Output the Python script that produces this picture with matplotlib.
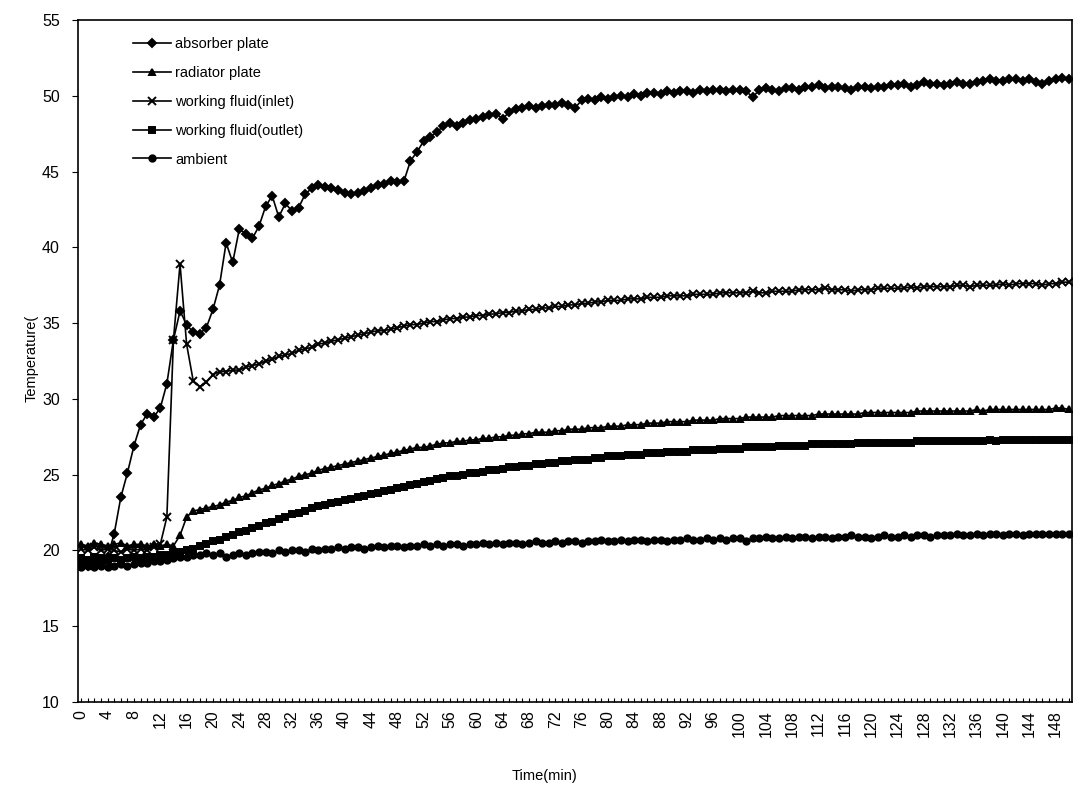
import numpy as np
import matplotlib
matplotlib.use("Agg")
import matplotlib.pyplot as plt

plt.rcParams['font.family'] = ['Liberation Sans', 'DejaVu Sans']

time_min = list(range(0, 151))

absorber_plate = [
    19.1, 19.0, 19.2, 19.1, 19.6, 21.1, 23.5, 25.1, 26.9, 28.3,
    29.0, 28.8, 29.4, 31.0, 33.9, 35.8, 34.9, 34.4, 34.3, 34.7,
    35.9, 37.5, 40.3, 39.0, 41.2, 40.9, 40.6, 41.4, 42.7, 43.4,
    42.0, 42.9, 42.4, 42.6, 43.5, 43.9, 44.1, 44.0, 43.9, 43.8,
    43.6, 43.5, 43.6, 43.7, 43.9, 44.1, 44.2, 44.35, 44.3, 44.35,
    45.7, 46.3, 47.0, 47.3, 47.6, 48.0, 48.2, 48.0, 48.2, 48.4,
    48.5, 48.6, 48.7, 48.8, 48.5, 48.9, 49.1, 49.2, 49.3, 49.2,
    49.3, 49.4, 49.4, 49.5, 49.4, 49.2, 49.7, 49.8, 49.7, 49.9,
    49.8, 49.9, 50.0, 49.9, 50.1, 50.0, 50.2, 50.2, 50.1, 50.3,
    50.2, 50.3, 50.3, 50.2, 50.4, 50.3, 50.4, 50.4, 50.3, 50.4,
    50.4, 50.3, 49.9, 50.4, 50.5, 50.4, 50.3, 50.5, 50.5, 50.4,
    50.6, 50.6, 50.7, 50.5, 50.6, 50.6, 50.5, 50.4, 50.6, 50.6,
    50.5, 50.6, 50.6, 50.7, 50.7, 50.8, 50.6, 50.7, 50.9, 50.8,
    50.8, 50.7, 50.8, 50.9, 50.8, 50.8, 50.9, 51.0, 51.1, 51.0,
    51.0, 51.1, 51.1, 51.0, 51.1, 50.9, 50.8, 51.0, 51.1, 51.2,
    51.1]

radiator_plate = [
    20.4, 20.3, 20.5, 20.4, 20.3, 20.4, 20.5, 20.3, 20.4, 20.4,
    20.3, 20.4, 20.3, 20.4, 20.3, 21.0, 22.2, 22.6, 22.7, 22.8,
    22.9, 23.0, 23.2, 23.3, 23.5, 23.6, 23.8, 24.0, 24.1, 24.3,
    24.4, 24.6, 24.7, 24.9, 25.0, 25.1, 25.3, 25.4, 25.5, 25.6,
    25.7, 25.8, 25.9, 26.0, 26.1, 26.2, 26.3, 26.4, 26.5, 26.6,
    26.7, 26.8, 26.8, 26.9, 27.0, 27.1, 27.1, 27.2, 27.2, 27.3,
    27.3, 27.4, 27.4, 27.5, 27.5, 27.6, 27.6, 27.7, 27.7, 27.8,
    27.8, 27.8, 27.9, 27.9, 28.0, 28.0, 28.0, 28.1, 28.1, 28.1,
    28.2, 28.2, 28.2, 28.3, 28.3, 28.3, 28.4, 28.4, 28.4, 28.5,
    28.5, 28.5, 28.5, 28.6, 28.6, 28.6, 28.6, 28.7, 28.7, 28.7,
    28.7, 28.8, 28.8, 28.8, 28.8, 28.8, 28.9, 28.9, 28.9, 28.9,
    28.9, 28.9, 29.0, 29.0, 29.0, 29.0, 29.0, 29.0, 29.0, 29.1,
    29.1, 29.1, 29.1, 29.1, 29.1, 29.1, 29.1, 29.2, 29.2, 29.2,
    29.2, 29.2, 29.2, 29.2, 29.2, 29.2, 29.3, 29.2, 29.3, 29.3,
    29.3, 29.3, 29.3, 29.3, 29.3, 29.3, 29.3, 29.3, 29.4, 29.4,
    29.3]

fluid_inlet = [
    20.1, 20.0, 20.2, 20.0, 20.1, 20.0, 19.9, 20.1, 20.0, 20.1,
    20.0, 20.2, 20.4, 22.2, 33.9, 38.9, 33.6, 31.2, 30.8, 31.1,
    31.6, 31.8, 31.8, 31.9, 31.9, 32.1, 32.2, 32.3, 32.5, 32.6,
    32.8, 32.9, 33.0, 33.2, 33.3, 33.4, 33.6, 33.7, 33.8, 33.9,
    34.0, 34.1, 34.2, 34.3, 34.4, 34.5, 34.5, 34.6, 34.7, 34.8,
    34.9, 34.9, 35.0, 35.1, 35.1, 35.2, 35.3, 35.3, 35.4, 35.4,
    35.5, 35.5, 35.6, 35.6, 35.7, 35.7, 35.8, 35.8, 35.9, 35.9,
    36.0, 36.0, 36.1, 36.1, 36.2, 36.2, 36.3, 36.3, 36.4, 36.4,
    36.5, 36.5, 36.5, 36.6, 36.6, 36.6, 36.7, 36.7, 36.7, 36.8,
    36.8, 36.8, 36.8, 36.9, 36.9, 36.9, 36.9, 37.0, 37.0, 37.0,
    37.0, 37.0, 37.1, 37.0, 37.0, 37.1, 37.1, 37.1, 37.1, 37.2,
    37.2, 37.2, 37.2, 37.3, 37.2, 37.2, 37.2, 37.1, 37.2, 37.2,
    37.2, 37.3, 37.3, 37.3, 37.3, 37.3, 37.4, 37.3, 37.4, 37.4,
    37.4, 37.4, 37.4, 37.5, 37.5, 37.4, 37.5, 37.5, 37.5, 37.5,
    37.6, 37.5, 37.6, 37.6, 37.6, 37.6, 37.5, 37.6, 37.6, 37.7,
    37.7]

fluid_outlet = [
    19.5, 19.4, 19.6, 19.5, 19.4, 19.5, 19.4, 19.5, 19.6, 19.5,
    19.6, 19.6, 19.7, 19.7, 19.8, 19.9, 20.0, 20.1, 20.3, 20.4,
    20.6, 20.7, 20.9, 21.0, 21.2, 21.3, 21.5, 21.6, 21.8, 21.9,
    22.1, 22.2, 22.4, 22.5, 22.6, 22.8, 22.9, 23.0, 23.1, 23.2,
    23.3, 23.4, 23.5, 23.6, 23.7, 23.8, 23.9, 24.0, 24.1, 24.2,
    24.3, 24.4, 24.5, 24.6, 24.7, 24.8, 24.9, 24.9, 25.0, 25.1,
    25.1, 25.2, 25.3, 25.3, 25.4, 25.5, 25.5, 25.6, 25.6, 25.7,
    25.7, 25.8, 25.8, 25.9, 25.9, 26.0, 26.0, 26.0, 26.1, 26.1,
    26.2, 26.2, 26.2, 26.3, 26.3, 26.3, 26.4, 26.4, 26.4, 26.5,
    26.5, 26.5, 26.5, 26.6, 26.6, 26.6, 26.6, 26.7, 26.7, 26.7,
    26.7, 26.8, 26.8, 26.8, 26.8, 26.8, 26.9, 26.9, 26.9, 26.9,
    26.9, 27.0, 27.0, 27.0, 27.0, 27.0, 27.0, 27.0, 27.1, 27.1,
    27.1, 27.1, 27.1, 27.1, 27.1, 27.1, 27.1, 27.2, 27.2, 27.2,
    27.2, 27.2, 27.2, 27.2, 27.2, 27.2, 27.2, 27.2, 27.3, 27.2,
    27.3, 27.3, 27.3, 27.3, 27.3, 27.3, 27.3, 27.3, 27.3, 27.3,
    27.3]

ambient = [
    18.9, 19.0, 18.9, 19.0, 18.9, 19.0, 19.1, 19.0, 19.1, 19.2,
    19.2, 19.3, 19.3, 19.4, 19.5, 19.6, 19.6, 19.7, 19.7, 19.8,
    19.7, 19.8, 19.6, 19.7, 19.8, 19.7, 19.8, 19.9, 19.9, 19.8,
    20.0, 19.9, 20.0, 20.0, 19.9, 20.1, 20.0, 20.1, 20.1, 20.2,
    20.1, 20.2, 20.2, 20.1, 20.2, 20.3, 20.2, 20.3, 20.3, 20.2,
    20.3, 20.3, 20.4, 20.3, 20.4, 20.3, 20.4, 20.4, 20.3, 20.4,
    20.4, 20.5, 20.4, 20.5, 20.4, 20.5, 20.5, 20.4, 20.5, 20.6,
    20.5, 20.5, 20.6, 20.5, 20.6, 20.6, 20.5, 20.6, 20.6, 20.7,
    20.6, 20.6, 20.7, 20.6, 20.7, 20.7, 20.6, 20.7, 20.7, 20.6,
    20.7, 20.7, 20.8, 20.7, 20.7, 20.8, 20.7, 20.8, 20.7, 20.8,
    20.8, 20.6, 20.8, 20.8, 20.9, 20.8, 20.8, 20.9, 20.8, 20.9,
    20.9, 20.8, 20.9, 20.9, 20.8, 20.9, 20.9, 21.0, 20.9, 20.9,
    20.8, 20.9, 21.0, 20.9, 20.9, 21.0, 20.9, 21.0, 21.0, 20.9,
    21.0, 21.0, 21.0, 21.1, 21.0, 21.0, 21.1, 21.0, 21.1, 21.1,
    21.0, 21.1, 21.1, 21.0, 21.1, 21.1, 21.1, 21.1, 21.1, 21.1,
    21.1]

series_labels = ["absorber plate", "radiator plate", "working fluid(inlet)",
                 "working fluid(outlet)", "ambient"]
y_ticks = [10, 15, 20, 25, 30, 35, 40, 45, 50, 55]
x_tick_step = 4

fig = plt.figure(figsize=(10.75, 7.87), dpi=100)
ax = fig.add_axes([78 / 1075, 1 - 702 / 787, 994 / 1075, 682 / 787])

series = [absorber_plate, radiator_plate, fluid_inlet, fluid_outlet, ambient]
markers = ['D', '^', 'x', 's', 'o']
msizes = [4.3, 4.8, 5.5, 4.6, 4.6]
for vals, lab, m, ms in zip(series, series_labels, markers, msizes):
    ax.plot(time_min, vals, color='black', lw=1.2, marker=m, ms=ms,
            mfc='black', mec='black', mew=1.4, label=lab)

ax.set_xlim(-0.5, len(time_min) - 0.5)
ax.set_ylim(10, 55)
ax.set_yticks(y_ticks)
ax.set_yticklabels([str(v) for v in y_ticks], fontsize=11.5)
xt = time_min[::x_tick_step]
ax.set_xticks(xt)
ax.set_xticklabels([str(v) for v in xt], rotation=90, fontsize=11.5)
ax.set_xticks(time_min, minor=True)
ax.tick_params(axis='x', which='both', direction='in', length=3, width=0.8, pad=6)
ax.tick_params(axis='y', which='major', direction='out', length=4, width=0.8, pad=9)
for s in ax.spines.values():
    s.set_linewidth(1.2)
    s.set_color('black')

leg = ax.legend(loc='upper left', bbox_to_anchor=(0.045, 0.99), frameon=False,
                fontsize=10.5, handlelength=2.6, handletextpad=0.3,
                labelspacing=1.02, borderaxespad=0.3)

fig.text(32 / 1075, 1 - 358 / 787, "Temperature(", rotation=90, fontsize=10.5,
         ha='center', va='center')
fig.text(545 / 1075, 1 - 776 / 787, "Time(min)", fontsize=10.5,
         ha='center', va='center')

fig.savefig("out.png", dpi=100, facecolor='white')
